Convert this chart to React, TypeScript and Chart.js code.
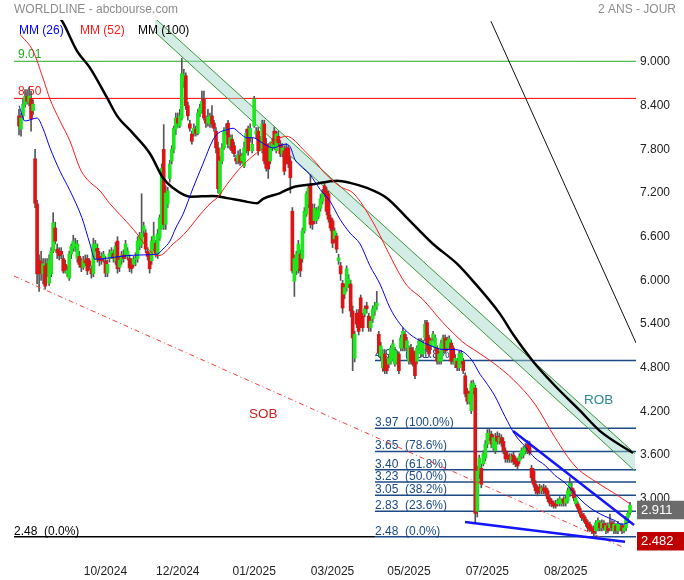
import React, { useEffect, useRef } from "react";
import { Chart, registerables } from "chart.js";

Chart.register(...registerables);

type Row = [number, number, number, number]; // open, high, low, close

// daily candles, Jul 2024 -> Nov 2024
const ohlcPart1: Row[] = [
  [8.26,8.35,8.00,8.12],[8.08,8.30,7.98,8.23],[8.26,8.50,8.20,8.42],[8.42,8.62,8.38,8.53],[8.53,8.62,8.42,8.46],
  [8.45,8.65,8.40,8.53],[8.50,8.60,8.05,8.22],[8.33,8.48,8.28,8.42],[7.67,7.80,7.00,7.06],[7.05,7.10,5.95,6.09],
  [6.27,6.35,5.85,6.09],[6.25,6.40,6.00,6.21],[6.09,6.30,5.95,6.23],[6.20,6.30,5.88,5.92],[6.23,6.30,6.05,6.09],
  [5.96,6.35,5.93,6.27],[6.09,6.45,6.05,6.40],[6.40,6.93,6.38,6.79],[6.72,6.80,6.50,6.54],[6.43,6.50,6.30,6.38],
  [6.38,6.45,6.28,6.34],[6.40,6.45,6.30,6.36],[6.30,6.35,6.10,6.13],[6.22,6.28,6.10,6.15],[6.09,6.20,6.05,6.13],
  [6.03,6.40,6.00,6.36],[6.36,6.50,6.30,6.47],[6.44,6.62,6.40,6.54],[6.47,6.58,6.40,6.50],[6.30,6.55,6.25,6.50],
  [6.33,6.40,6.18,6.22],[6.22,6.30,6.12,6.18],[6.18,6.33,6.15,6.28],[6.28,6.35,6.20,6.24],[6.30,6.35,6.08,6.13],
  [6.27,6.30,6.15,6.20],[6.16,6.20,6.03,6.09],[6.09,6.58,6.05,6.50],[6.44,6.55,6.40,6.50],[6.44,6.50,6.25,6.30],
  [6.33,6.40,6.20,6.27],[6.33,6.38,6.22,6.27],[6.30,6.40,6.25,6.36],[6.27,6.33,6.05,6.10],[6.10,6.28,6.05,6.22],
  [6.30,6.42,6.25,6.37],[6.36,6.45,6.30,6.40],[6.37,6.42,6.25,6.30],[6.27,6.52,6.22,6.47],[6.54,6.60,6.10,6.16],
  [6.18,6.32,6.12,6.28],[6.28,6.40,6.22,6.35],[6.35,6.42,6.25,6.30],[6.36,6.55,6.30,6.50],[6.33,6.45,6.28,6.40],
  [6.30,6.35,6.12,6.17],[6.27,6.30,6.10,6.16],[6.22,6.33,6.18,6.29],[6.29,6.38,6.20,6.30],[6.30,6.60,6.25,6.54],
  [6.47,6.66,6.42,6.61],[6.50,7.19,6.45,6.65],[6.68,6.80,6.60,6.75],[6.65,6.70,6.38,6.43],[6.40,6.45,6.28,6.33],
  [6.33,6.38,6.10,6.16],[6.27,6.60,6.22,6.54],[6.44,6.80,6.40,6.61],[6.51,6.55,6.32,6.37],[6.36,6.70,6.30,6.64],
  [6.58,6.90,6.55,6.86],[6.72,7.60,6.70,7.54],[7.80,8.14,6.70,6.77],
];

// Nov 2024 -> Feb 2025
const ohlcPart2: Row[] = [
  [6.77,7.30,6.70,7.20],[7.05,7.28,7.00,7.23],[7.40,7.65,7.35,7.60],[7.64,7.85,7.60,7.80],[7.80,8.12,7.75,8.09],
  [8.08,8.30,8.00,8.23],[8.23,8.30,8.10,8.16],[8.12,8.35,8.10,8.26],[8.23,9.05,8.20,8.84],[8.74,8.90,8.65,8.81],
  [8.81,8.85,8.35,8.40],[8.40,8.45,8.20,8.26],[8.15,8.20,8.05,8.09],[8.01,8.05,7.87,7.91],[8.02,8.15,7.98,8.09],
  [8.08,8.12,7.98,8.02],[8.02,8.35,8.00,8.30],[8.29,8.42,8.25,8.37],[8.35,8.60,8.30,8.46],[8.49,8.60,8.20,8.23],
  [8.22,8.26,8.10,8.16],[8.16,8.35,8.12,8.24],[8.15,8.30,8.10,8.26],[8.26,8.40,8.10,8.15],[8.16,8.20,8.05,8.09],
  [8.05,8.10,7.75,7.82],[7.82,7.90,7.20,7.26],[7.19,7.70,7.15,7.64],[7.64,7.88,7.60,7.82],[7.82,8.10,7.80,8.05],
  [8.05,8.15,8.00,8.08],[8.16,8.20,7.82,7.87],[7.85,8.00,7.80,7.96],[7.94,8.00,7.75,7.78],[7.85,7.90,7.70,7.74],
  [7.68,7.72,7.60,7.64],[7.64,7.78,7.60,7.72],[7.72,7.80,7.58,7.62],[7.64,7.75,7.60,7.71],[7.57,7.90,7.55,7.82],
  [7.78,8.08,7.75,8.02],[8.08,8.12,7.72,7.78],[7.96,8.15,7.90,8.09],[7.78,7.95,7.75,7.87],[8.12,8.53,8.10,8.49],
  [8.01,8.10,7.95,8.05],[8.05,8.10,7.72,7.78],[7.91,7.98,7.80,7.85],[7.78,8.20,7.75,8.15],[8.15,8.20,7.60,7.64],
  [7.87,7.95,7.50,7.54],[7.82,7.88,7.40,7.53],[7.64,7.90,7.60,7.82],[7.82,7.95,7.78,7.91],[8.05,8.10,7.80,7.87],
  [7.78,8.05,7.75,8.01],[7.98,8.05,7.85,7.89],[7.87,7.92,7.70,7.74],[7.74,7.88,7.70,7.82],[7.78,7.85,7.45,7.50],
  [7.82,7.88,7.60,7.64],[7.82,7.85,7.55,7.60],[7.64,7.70,7.20,7.41],
];

// Feb 2025 -> Jun 2025
const ohlcPart3: Row[] = [
  [6.95,7.00,6.10,6.13],[5.99,6.35,5.78,6.30],[6.13,6.40,6.08,6.36],[6.17,6.55,6.10,6.50],[6.36,6.42,6.05,6.13],
  [6.30,6.72,6.25,6.68],[6.68,7.00,6.65,6.95],[6.91,7.22,6.88,7.19],[7.05,7.30,7.00,7.27],[7.32,7.45,6.72,6.77],
  [6.99,7.05,6.70,6.77],[6.82,7.05,6.78,6.99],[6.82,7.00,6.78,6.95],[6.88,7.02,6.85,6.98],[6.99,7.18,6.95,7.12],
  [7.09,7.25,7.05,7.20],[7.30,7.35,7.15,7.19],[7.23,7.28,6.90,6.95],[7.19,7.22,6.80,6.84],[6.86,6.90,6.68,6.72],
  [6.82,6.85,6.45,6.51],[6.57,6.72,6.52,6.68],[6.61,6.65,6.38,6.43],[6.27,6.36,6.22,6.31],[6.20,6.25,6.00,6.09],
  [5.96,6.00,5.55,5.62],[5.81,5.95,5.75,5.90],[5.90,6.20,5.85,6.16],[5.95,6.08,5.90,6.02],[5.95,6.00,5.50,5.58],
  [5.58,5.65,4.76,5.21],[4.93,5.30,4.88,5.26],[5.55,5.60,5.35,5.40],[5.55,5.60,5.25,5.30],[5.76,5.80,5.35,5.40],
  [5.51,5.55,5.30,5.35],[5.54,5.65,5.50,5.61],[5.65,5.70,5.55,5.61],[5.51,5.55,5.30,5.35],[5.35,5.50,5.30,5.44],
  [5.47,5.65,5.42,5.61],[5.58,5.70,5.52,5.65],[5.65,5.85,5.60,5.69],[5.26,5.30,4.95,5.00],[4.96,5.15,4.90,5.10],
  [4.80,5.05,4.75,4.99],[4.99,5.05,4.72,4.76],[4.89,4.92,4.72,4.76],[4.85,4.98,4.80,4.93],[4.89,5.10,4.85,5.07],
  [4.93,5.18,4.90,5.13],[4.85,5.08,4.82,5.03],[4.89,5.03,4.85,4.99],[4.99,5.02,4.72,4.76],[5.07,5.25,5.03,5.21],
  [5.07,5.35,5.03,5.30],[5.26,5.30,5.03,5.07],[5.07,5.22,5.03,5.17],[4.89,5.10,4.85,5.07],[5.07,5.12,4.85,4.89],
  [5.03,5.08,4.82,4.85],[4.99,5.03,4.65,4.69],[4.89,5.10,4.85,5.07],[5.07,5.20,5.03,5.17],[4.99,5.20,4.95,5.17],
  [4.99,5.18,4.95,5.13],[5.21,5.45,5.17,5.40],[5.42,5.45,5.02,5.06],[5.21,5.25,4.95,4.99],[5.10,5.20,5.05,5.17],
  [5.21,5.30,5.17,5.26],[5.07,5.25,5.03,5.21],[5.07,5.10,4.85,4.89],[4.89,5.03,4.85,4.99],[4.89,5.18,4.85,5.13],
  [5.03,5.25,5.00,5.21],[5.21,5.25,5.00,5.03],[5.07,5.22,5.03,5.17],[5.10,5.24,5.05,5.20],[5.14,5.18,4.85,4.89],
  [5.07,5.10,4.85,4.89],[4.85,4.98,4.80,4.93],[4.89,4.93,4.76,4.80],[4.80,5.03,4.76,4.99],[4.89,5.04,4.85,5.00],
  [4.89,4.93,4.72,4.76],[4.69,4.73,4.40,4.44],[4.48,4.52,4.30,4.34],[4.34,4.48,4.30,4.44],[4.21,4.62,4.17,4.58],
  [4.48,4.63,4.44,4.59],[4.52,4.56,2.67,2.80],
];

// Jun 2025 -> Sep 2025
const ohlcPart4: Row[] = [
  [2.83,3.45,2.75,3.38],[3.34,3.60,3.28,3.56],[3.42,3.48,3.15,3.20],[3.48,3.66,3.45,3.62],[3.56,3.80,3.52,3.75],
  [3.75,3.95,3.70,3.90],[3.84,3.97,3.80,3.90],[3.89,3.93,3.70,3.75],[3.70,3.88,3.65,3.84],[3.66,3.90,3.62,3.79],
  [3.86,3.92,3.75,3.79],[3.79,3.90,3.75,3.84],[3.84,3.88,3.72,3.77],[3.79,3.84,3.62,3.66],[3.66,3.70,3.50,3.55],
  [3.60,3.64,3.50,3.55],[3.58,3.62,3.50,3.54],[3.54,3.62,3.50,3.58],[3.60,3.64,3.47,3.51],[3.55,3.58,3.44,3.48],
  [3.52,3.56,3.40,3.45],[3.52,3.62,3.48,3.58],[3.58,3.70,3.55,3.66],[3.60,3.72,3.56,3.69],[3.66,3.76,3.62,3.72],
  [3.75,3.80,3.62,3.66],[3.75,3.79,3.60,3.63],[3.42,3.46,3.25,3.29],[3.38,3.42,3.16,3.20],[3.20,3.25,3.07,3.11],
  [3.14,3.18,3.04,3.08],[3.16,3.20,3.07,3.11],[3.11,3.18,3.07,3.15],[3.15,3.20,3.07,3.11],[3.15,3.18,3.04,3.08],
  [3.11,3.14,2.96,3.00],[3.01,3.04,2.90,2.94],[2.97,3.00,2.89,2.93],[2.94,2.97,2.87,2.90],[2.94,2.98,2.87,2.90],
  [2.93,3.00,2.90,2.97],[2.94,3.03,2.90,3.00],[2.93,3.00,2.90,2.97],[3.00,3.03,2.90,2.94],[2.94,3.04,2.90,3.00],
  [2.97,3.15,2.94,3.11],[3.07,3.29,3.03,3.21],[3.15,3.22,3.07,3.11],[3.11,3.14,2.97,3.01],[2.93,3.04,2.90,3.01],
  [2.93,2.96,2.84,2.87],[2.87,2.90,2.76,2.80],[2.79,2.82,2.70,2.74],[2.77,2.80,2.68,2.72],[2.72,2.75,2.62,2.66],
  [2.67,2.70,2.56,2.60],[2.65,2.68,2.55,2.58],[2.60,2.63,2.52,2.56],[2.60,2.63,2.48,2.53],[2.56,2.70,2.52,2.67],
  [2.60,2.74,2.56,2.70],[2.67,2.70,2.56,2.60],[2.60,2.71,2.56,2.67],[2.66,2.70,2.57,2.60],[2.56,2.67,2.52,2.63],
  [2.63,2.67,2.53,2.56],[2.60,2.79,2.56,2.65],[2.67,2.70,2.56,2.60],[2.56,2.69,2.52,2.65],[2.63,2.66,2.52,2.56],
  [2.56,2.69,2.52,2.65],[2.60,2.66,2.56,2.63],[2.63,2.66,2.52,2.56],[2.56,2.64,2.53,2.60],[2.60,2.76,2.56,2.72],
  [2.74,2.83,2.70,2.80],[2.81,2.95,2.78,2.911],
];

// moving averages: [candle index, value]
const ma26: [number, number][] = [
  [0,8.40],[3,8.19],[9,8.23],[11.9,8.09],[15.4,7.82],[20.4,7.50],[25.4,7.23],[31.3,6.86],[35.3,6.50],[37.8,6.29],
  [45.3,6.31],[53.7,6.34],[61.7,6.35],[68.7,6.36],[71.6,6.43],[75.1,6.54],[78,6.72],[81.6,6.91],[86.6,7.27],
  [91.5,7.60],[96.5,7.93],[99,8.02],[103.5,8.07],[106.5,8.09],[109.9,8.02],[113.4,7.96],[116.4,7.96],[119.9,7.91],
  [123.4,7.85],[126.4,7.82],[129.9,7.85],[132.3,7.87],[134.8,7.84],[137.3,7.66],[139.8,7.58],[144.8,7.45],
  [149.8,7.25],[154.7,7.09],[159.7,6.84],[164.7,6.65],[169.7,6.50],[174.6,6.20],[179.6,5.95],[184.6,5.62],
  [189.6,5.40],[194.5,5.26],[201,5.15],[208,5.07],[211,5.05],[215.9,5.05],[220.9,5.02],[225.4,4.90],
  [229.4,4.71],[231.8,4.62],[236.8,4.41],[241.8,4.13],[246.8,3.88],[251.7,3.72],[256.7,3.56],[261.7,3.46],
  [266.7,3.32],[271.6,3.22],[276.6,3.07],[281.6,2.93],[286.6,2.83],[291.5,2.76],[296.5,2.70],[300,2.65],[304,2.68],
];
const ma52: [number, number][] = [
  [0.5,9.38],[7,9.15],[11.9,8.78],[15.4,8.49],[20.4,8.19],[25.4,7.91],[30.3,7.54],[33.8,7.39],[40.3,7.23],
  [45.3,7.05],[51.7,6.86],[58.7,6.64],[63.7,6.45],[68.7,6.34],[71.6,6.36],[76.6,6.50],[80.1,6.58],[83.6,6.68],
  [91.5,6.95],[96.5,7.09],[98.5,7.13],[103.5,7.32],[109.9,7.54],[116.4,7.71],[123.4,7.85],[128.4,7.94],
  [133.3,7.98],[136.3,7.94],[141.3,7.80],[148.3,7.60],[151.2,7.50],[159.7,7.29],[166.6,7.19],[176.1,6.80],
  [183.1,6.42],[188.1,6.15],[193,5.93],[200.5,5.75],[210.9,5.42],[215.9,5.28],[220.9,5.15],[227.9,5.02],
  [236.8,4.85],[245.8,4.64],[256.7,4.30],[266.7,3.84],[276.6,3.45],[286.6,3.24],[296.5,3.07],[304,2.93],
];
const ma100: [number, number][] = [
  [17.9,9.70],[21.9,9.54],[28.9,9.15],[35.3,8.92],[43.8,8.51],[48.8,8.26],[56.7,8.02],[65.2,7.74],[71.6,7.41],
  [76.6,7.27],[85.1,7.15],[96.5,7.16],[103.5,7.13],[111.4,7.09],[118.4,7.06],[121.4,7.12],[129.9,7.20],
  [136.3,7.28],[146.3,7.32],[158.2,7.37],[164.7,7.34],[173.1,7.27],[183.1,7.13],[193,6.86],[206,6.50],
  [217.9,6.23],[225.9,5.99],[239.3,5.54],[245.8,5.26],[255.7,4.89],[265.7,4.58],[279.1,4.21],[289.1,3.93],
  [302.5,3.68],[305.5,3.63],
];

// trend lines: [candle index, price]
const channelUpper: [number, number][] = [[67.7, 9.60], [306.5, 3.62]];
const channelLower: [number, number][] = [[67.7, 9.41], [306.5, 3.38]];
const sobLine: [number, number][] = [[-2.49, 6.06], [300, 2.34]];
const blueLow: [number, number][] = [[221.9, 2.68], [301.5, 2.41]];
const blueHigh: [number, number][] = [[245.8, 3.93], [306, 2.64]];
const steepLine: [number, number][] = [[234.8, 9.56], [307, 5.14]];

// horizontal levels
const level901 = 9.01;
const level850 = 8.5;
const fibStart = 177.1;
const fibLevels = [4.90, 3.97, 3.65, 3.40, 3.23, 3.05, 2.83, 2.48];
const fibTexts = ["4.90  (161.8%)", "3.97  (100.0%)", "3.65  (78.6%)", "3.40  (61.8%)", "3.23  (50.0%)", "3.05  (38.2%)", "2.83  (23.6%)", "2.48  (0.0%)"];
const lastValue = 2.911;
const lowValue = 2.482;

// axes
const xMin = -2.49;
const xMax = 306.97;
const xTickIndex = [43, 79, 117, 156, 194, 233, 272];
const xTickLabels = ["10/2024", "12/2024", "01/2025", "03/2025", "05/2025", "07/2025", "08/2025"];
const yTicks = [3.0, 3.6, 4.2, 4.8, 5.4, 6.0, 6.6, 7.2, 7.8, 8.4, 9.0];
const yMin = 2.214;
const yMax = 9.577;

const FONT = "'Liberation Sans', Arial, Helvetica, sans-serif";
const GREEN = "#1ee61e";
const RED = "#dc1414";
const FIB = "#1b4a86";

export default function App() {
  const ref = useRef<HTMLCanvasElement>(null);

  useEffect(() => {
    document.body.style.margin = "0";
    const candles = [...ohlcPart1, ...ohlcPart2, ...ohlcPart3, ...ohlcPart4];
    const wicks = candles.map((c, i) => ({ x: i, y: [c[2], c[1]] }));
    const bodies = candles.map((c, i) => ({ x: i, y: [Math.min(c[0], c[3]), Math.max(c[0], c[3])] }));
    const bodyColors = candles.map((c) => (c[3] >= c[0] ? GREEN : RED));
    const pts = (arr: [number, number][]) => arr.map(([x, y]) => ({ x, y }));
    const hl = (x0: number, x1: number, v: number) => [{ x: x0, y: v }, { x: x1, y: v }];
    const line = (data: any, color: string, width: number, order: number, extra: any = {}) => ({
      type: "line", data, borderColor: color, borderWidth: width, pointRadius: 0,
      fill: false, order, tension: 0, ...extra,
    });

    const datasets: any[] = [
      line(hl(xMin, xMax, level901), "#22aa22", 1, 30),
      line(hl(xMin, xMax, level850), "#ff0000", 1, 30),
      line(hl(xMin, fibStart, 2.48), "#000000", 1.5, 30),
      ...fibLevels.map((v) => line(hl(fibStart, xMax, v), FIB, 1.5, 30)),
      line(pts(channelUpper), "#3a963a", 1, 20),
      line(pts(channelLower), "#3a963a", 1, 20, { fill: "-1", backgroundColor: "rgba(160,212,200,0.45)" }),
      { type: "bar", data: wicks, backgroundColor: "#555555", barThickness: 1, grouped: false, order: 12 },
      {
        type: "bar", data: bodies, backgroundColor: bodyColors, barThickness: 3, grouped: false,
        minBarLength: 1, borderWidth: 0, order: 11,
      },
      line(pts(sobLine), "#ff3b3b", 1, 8, { borderDash: [5, 3, 1, 3] }),
      line(pts(blueLow), "#1414ff", 2.5, 5),
      line(pts(blueHigh), "#1414ff", 2.5, 5),
      line(pts(steepLine), "#111111", 1, 4),
      line(pts(ma100), "#000000", 2.5, 3, { cubicInterpolationMode: "monotone" }),
      line(pts(ma52), "#ff1a1a", 1, 2, { cubicInterpolationMode: "monotone" }),
      line(pts(ma26), "#0000ff", 1, 1, { cubicInterpolationMode: "monotone" }),
    ];

    const overlay = {
      id: "overlay",
      beforeDatasetsDraw(chart: any) {
        const { ctx, scales } = chart;
        const x = scales.x, y = scales.y;
        ctx.save();
        ctx.textAlign = "left";
        ctx.textBaseline = "alphabetic";
        ctx.font = `12px ${FONT}`;
        ctx.fillStyle = "#22aa22";
        ctx.fillText("9.01", 18, y.getPixelForValue(level901) - 3);
        ctx.fillStyle = "#ff2020";
        ctx.fillText("8.50", 18, y.getPixelForValue(level850) - 3);
        ctx.fillStyle = "#000000";
        ctx.fillText("2.48  (0.0%)", 14, y.getPixelForValue(2.48) - 2);
        ctx.fillStyle = FIB;
        const fx = x.getPixelForValue(fibStart);
        fibLevels.forEach((v, i) => ctx.fillText(fibTexts[i], fx, y.getPixelForValue(v) - 2));
        ctx.font = `13.5px ${FONT}`;
        ctx.fillStyle = "#cc2020";
        ctx.fillText("SOB", x.getPixelForValue(114.4), y.getPixelForValue(4.11));
        ctx.fillStyle = "#2a8c8c";
        ctx.fillText("ROB", x.getPixelForValue(281.1), y.getPixelForValue(4.30));
        ctx.restore();
      },
      afterDraw(chart: any) {
        const { ctx, scales } = chart;
        const y = scales.y;
        ctx.save();
        ctx.textBaseline = "alphabetic";
        ctx.font = `12px ${FONT}`;
        ctx.fillStyle = "#8c8c8c";
        ctx.textAlign = "left";
        ctx.fillText("WORLDLINE - abcbourse.com", 14, 13);
        ctx.textAlign = "right";
        ctx.fillText("2 ANS - JOUR", 676, 13);
        ctx.textAlign = "left";
        ctx.fillStyle = "#0000ff";
        ctx.fillText("MM (26)", 19, 34);
        ctx.fillStyle = "#ff1a1a";
        ctx.fillText("MM (52)", 80, 34);
        ctx.fillStyle = "#000000";
        ctx.fillText("MM (100)", 138, 34);
        const box = (v: number, bg: string) => {
          const py = y.getPixelForValue(v);
          ctx.fillStyle = bg;
          ctx.fillRect(637, py - 4.5, 47, 18.5);
          ctx.fillStyle = "#ffffff";
          ctx.font = `13px ${FONT}`;
          ctx.textBaseline = "middle";
          ctx.fillText(v.toFixed(3), 641, py + 5);
        };
        box(lastValue, "#6b6b6b");
        box(lowValue, "#c00000");
        ctx.restore();
      },
    };

    const chart = new Chart(ref.current as HTMLCanvasElement, {
      type: "bar",
      data: { datasets },
      options: {
        animation: false,
        responsive: false,
        devicePixelRatio: 1,
        layout: { padding: { left: 14, top: 20, right: 0, bottom: 0 } },
        plugins: { legend: { display: false }, tooltip: { enabled: false } },
        scales: {
          x: {
            type: "linear",
            min: xMin,
            max: xMax,
            offset: false,
            grid: { display: false, drawTicks: false },
            border: { display: false },
            afterBuildTicks: (s: any) => { s.ticks = xTickIndex.map((v) => ({ value: v })); },
            afterFit: (s: any) => { s.height = 24; },
            ticks: {
              autoSkip: false, maxRotation: 0, padding: 8, color: "#222222",
              font: { size: 12, family: FONT },
              callback: (v: any) => {
                const k = xTickIndex.indexOf(Number(v));
                return k >= 0 ? xTickLabels[k] : "";
              },
            },
          },
          y: {
            type: "linear",
            position: "right",
            min: yMin,
            max: yMax,
            grid: { display: false, drawTicks: false },
            border: { display: false },
            afterBuildTicks: (s: any) => { s.ticks = yTicks.map((v) => ({ value: v })); },
            afterFit: (s: any) => { s.width = 48; },
            ticks: {
              padding: 4, color: "#222222", font: { size: 12, family: FONT },
              callback: (v: any) => Number(v).toFixed(3),
            },
          },
        },
      } as any,
      plugins: [overlay],
    } as any);

    return () => chart.destroy();
  }, []);

  return (
    <div style={{ width: 684, height: 580, background: "#ffffff" }}>
      <canvas ref={ref} width={684} height={580} style={{ display: "block" }} />
    </div>
  );
}
